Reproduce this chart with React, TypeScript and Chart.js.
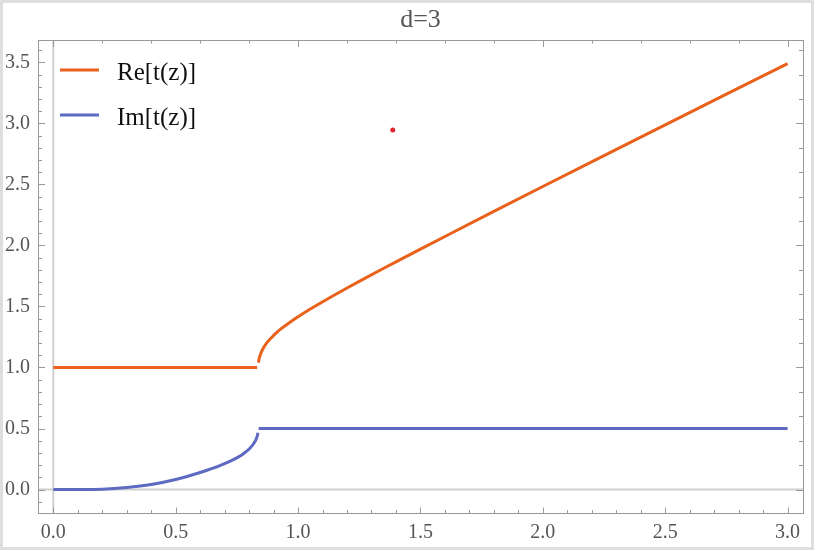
import { useEffect, useRef } from "react";
import { Chart, registerables } from "chart.js";
Chart.register(...registerables);

const titleText = "d=3";
const seriesLabels = ["Re[t(z)]", "Im[t(z)]"];
const seriesColors = ["rgb(233,97,26)", "rgb(92,106,194)"];
const xTickValues = [0, 0.5, 1, 1.5, 2, 2.5, 3];
const yTickValues = [0, 0.5, 1, 1.5, 2, 2.5, 3, 3.5];

const reZ = [0, 0.833, 0.836, 0.838, 0.842, 0.848, 0.855, 0.872, 0.9, 0.93, 0.967, 1.0, 1.05, 1.131, 1.2, 1.267, 1.35, 1.404, 1.5, 1.62, 1.8, 2.0, 2.25, 2.5, 2.75, 3.0];
const reVal = [1, 1, null, 1.04, 1.08, 1.116, 1.147, 1.201, 1.263, 1.316, 1.371, 1.416, 1.479, 1.574, 1.651, 1.724, 1.813, 1.87, 1.97, 2.094, 2.279, 2.483, 2.736, 2.988, 3.239, 3.49];

const imZ = [0, 0.1, 0.2, 0.3, 0.4, 0.5, 0.6, 0.65, 0.7, 0.74, 0.77, 0.79, 0.805, 0.815, 0.822, 0.828, 0.832, 0.835, 0.836, 0.837, 0.839, 3.0];
const imVal = [0, 0.0003, 0.003, 0.017, 0.042, 0.083, 0.14, 0.173, 0.213, 0.25, 0.284, 0.314, 0.343, 0.366, 0.387, 0.41, 0.43, 0.452, 0.465, null, 0.5, 0.5];

const markerX = [1.387];
const markerY = [2.945];

const serif = '"Liberation Serif", "Times New Roman", serif';

const decorPlugin = {
  id: "decor",
  beforeDraw(chart: any) {
    const { ctx, width, height } = chart;
    ctx.save();
    ctx.fillStyle = "#dedede";
    ctx.fillRect(0, 0, width, height);
    ctx.fillStyle = "#ffffff";
    ctx.fillRect(3, 3, width - 6, height - 6);
    ctx.restore();
  },
  beforeDatasetsDraw(chart: any) {
    const { ctx, chartArea: a, scales } = chart;
    const x0 = scales.x.getPixelForValue(0);
    const y0 = scales.y.getPixelForValue(0);
    ctx.save();
    ctx.strokeStyle = "#d0d0d0";
    ctx.lineWidth = 2;
    ctx.beginPath();
    ctx.moveTo(x0, a.top);
    ctx.lineTo(x0, a.bottom);
    ctx.moveTo(a.left, y0);
    ctx.lineTo(a.right, y0);
    ctx.stroke();
    ctx.restore();
  },
  afterDatasetsDraw(chart: any) {
    const { ctx, chartArea: a, scales } = chart;
    const xs = scales.x, ys = scales.y;
    ctx.save();
    ctx.strokeStyle = "#9a9a9a";
    ctx.lineWidth = 1;
    ctx.strokeRect(Math.round(a.left) + 0.5, Math.round(a.top) + 0.5, Math.round(a.right - a.left), Math.round(a.bottom - a.top));
    ctx.beginPath();
    for (let i = 0; i <= 30; i++) {
      const px = Math.round(xs.getPixelForValue(i / 10)) + 0.5;
      const len = i % 5 === 0 ? 5.5 : 3;
      ctx.moveTo(px, a.bottom);
      ctx.lineTo(px, a.bottom - len);
    }
    for (let i = 0; i <= 15; i++) {
      const px = Math.round(xs.getPixelForValue(i / 5)) + 0.5;
      const len = i % 5 === 0 ? 7 : 3.5;
      ctx.moveTo(px, a.top);
      ctx.lineTo(px, a.top + len);
    }
    for (let i = -1; i <= 36; i++) {
      const py = Math.round(ys.getPixelForValue(i / 10)) + 0.5;
      const len = i % 5 === 0 ? 7 : 4;
      ctx.moveTo(a.left, py);
      ctx.lineTo(a.left + len, py);
    }
    for (let i = 0; i <= 18; i++) {
      const py = Math.round(ys.getPixelForValue(i / 5)) + 0.5;
      const len = i % 5 === 0 ? 7 : 4;
      ctx.moveTo(a.right, py);
      ctx.lineTo(a.right - len, py);
    }
    ctx.stroke();

    ctx.fillStyle = "#555555";
    ctx.font = `26px ${serif}`;
    ctx.textAlign = "center";
    ctx.textBaseline = "alphabetic";
    ctx.fillText(titleText, (a.left + a.right) / 2, 27);

    ctx.textAlign = "left";
    ctx.font = `25px ${serif}`;
    seriesLabels.forEach((lab, k) => {
      const yRow = 70 + k * 45;
      ctx.strokeStyle = seriesColors[k];
      ctx.lineWidth = 3;
      ctx.beginPath();
      ctx.moveTo(60, yRow);
      ctx.lineTo(99, yRow);
      ctx.stroke();
      ctx.fillStyle = "#111111";
      ctx.fillText(lab, 117, yRow + 10);
    });
    ctx.restore();
  },
};

export default function App() {
  const ref = useRef<HTMLCanvasElement>(null);
  useEffect(() => {
    document.body.style.margin = "0";
    const reData = reZ.map((z, i) => ({ x: z, y: reVal[i] }));
    const imData = imZ.map((z, i) => ({ x: z, y: imVal[i] }));
    const mk = markerX.map((z, i) => ({ x: z, y: markerY[i] }));
    const tickFont = { family: serif, size: 20 };
    const chart = new Chart(ref.current!, {
      type: "scatter",
      data: {
        datasets: [
          { label: seriesLabels[0], data: reData as any, showLine: true, borderColor: seriesColors[0], borderWidth: 3, pointRadius: 0, cubicInterpolationMode: "monotone", spanGaps: false },
          { label: seriesLabels[1], data: imData as any, showLine: true, borderColor: seriesColors[1], borderWidth: 3, pointRadius: 0, cubicInterpolationMode: "monotone", spanGaps: false },
          { label: "point", data: mk, showLine: false, pointRadius: 2.5, pointBackgroundColor: "#e4242b", pointBorderWidth: 0 },
        ],
      },
      options: {
        animation: false,
        responsive: false,
        font: { family: serif },
        layout: { padding: { top: 40, right: 11, left: 0, bottom: 0 } },
        plugins: { legend: { display: false }, tooltip: { enabled: false }, title: { display: false } },
        scales: {
          x: {
            type: "linear",
            min: -0.0625,
            max: 3.063,
            grid: { display: false, drawTicks: false },
            border: { display: false },
            afterBuildTicks: (s: any) => { s.ticks = xTickValues.map((v) => ({ value: v })); },
            afterFit: (s: any) => { s.height = 37; },
            ticks: { padding: 8, color: "#555555", font: tickFont, callback: (v: any) => Number(v).toFixed(1), maxRotation: 0 },
          },
          y: {
            type: "linear",
            min: -0.192,
            max: 3.683,
            grid: { display: false, drawTicks: false },
            border: { display: false },
            afterBuildTicks: (s: any) => { s.ticks = yTickValues.map((v) => ({ value: v })); },
            afterFit: (s: any) => { s.width = 38; },
            ticks: { padding: 8, color: "#555555", font: tickFont, callback: (v: any) => Number(v).toFixed(1) },
          },
        },
      } as any,
      plugins: [decorPlugin],
    });
    const fontsReady = (document as any).fonts;
    if (fontsReady) {
      Promise.all([
        fontsReady.load('20px "Liberation Serif"'),
        fontsReady.load('25px "Liberation Serif"'),
      ]).then(() => { try { chart.update(); } catch (e) {} });
    }
    return () => chart.destroy();
  }, []);
  return <canvas ref={ref} width={814} height={550} style={{ display: "block" }} />;
}
